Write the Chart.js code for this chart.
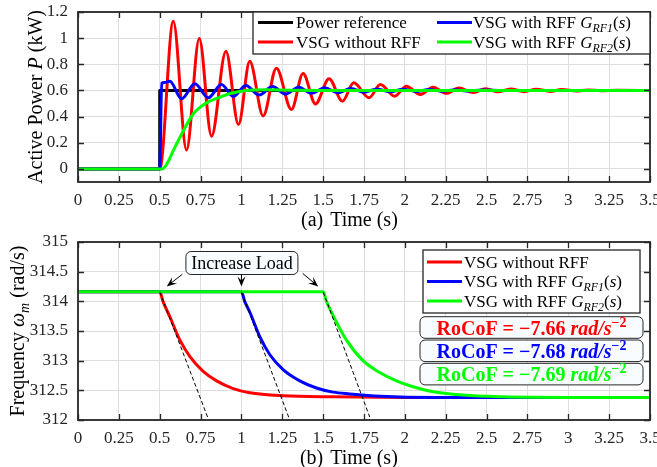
<!DOCTYPE html>
<html>
<head>
<meta charset="utf-8">
<script src="https://cdn.jsdelivr.net/npm/chart.js@4.4.1/dist/chart.umd.min.js"></script>
<style>
  html, body { margin: 0; padding: 0; background: #fff; }
  #wrap { position: relative; width: 657px; height: 467px; }
  canvas { position: absolute; left: 0; }
  #powerChart { top: 0; }
  #freqChart { top: 230px; }
</style>
</head>
<body>
<div id="wrap">
  <canvas id="powerChart" width="657" height="230"></canvas>
  <canvas id="freqChart" width="657" height="237"></canvas>
</div>
<script>
// ---- axes ----
const timeTicks = [0, 0.25, 0.5, 0.75, 1, 1.25, 1.5, 1.75, 2, 2.25, 2.5, 2.75, 3, 3.25, 3.5];
const timeTickLabels = ['0', '0.25', '0.5', '0.75', '1', '1.25', '1.5', '1.75', '2', '2.25', '2.5', '2.75', '3', '3.25', '3.5'];
const powerTicks = [0, 0.2, 0.4, 0.6, 0.8, 1, 1.2];
const powerTickLabels = ['0', '0.2', '0.4', '0.6', '0.8', '1', '1.2'];
const freqTicks = [312, 312.5, 313, 313.5, 314, 314.5, 315];
const freqTickLabels = ['312', '312.5', '313', '313.5', '314', '314.5', '315'];

// ---- (a) active power (kW) ----
const refTime  = [0, 0.5, 0.5, 3.5];
const refPower = [0, 0, 0.6, 0.6];

const noRffTime  = [0, 0.5, 0.583, 0.664, 0.742, 0.817, 0.905, 0.982, 1.051, 1.133, 1.214, 1.306, 1.377, 1.453,
  1.536, 1.618, 1.687, 1.781, 1.85, 1.938, 2.009, 2.095, 2.172, 2.254, 2.33, 2.42, 2.494, 2.57, 2.647, 2.73,
  2.804, 2.89, 2.96, 3.05, 3.12, 3.2, 3.3, 3.5];
const noRffPower = [0, 0, 1.13, 0.145, 0.998, 0.25, 0.9, 0.34, 0.823, 0.405, 0.77, 0.454, 0.73, 0.497,
  0.69, 0.518, 0.659, 0.544, 0.646, 0.556, 0.633, 0.569, 0.625, 0.578, 0.618, 0.585, 0.613, 0.59, 0.612, 0.591,
  0.61, 0.593, 0.607, 0.595, 0.604, 0.598, 0.601, 0.6];

const rf1Time  = [0, 0.5, 0.512, 0.53, 0.562, 0.634, 0.715, 0.797, 0.878, 0.95, 1.027, 1.108, 1.19, 1.27,
  1.35, 1.43, 1.51, 1.59, 1.67, 1.75, 1.83, 1.91, 1.99, 2.07, 2.15, 2.23, 2.31, 2.39, 2.47, 2.6, 3.5];
const rf1Power = [0, 0, 0.655, 0.66, 0.67, 0.536, 0.651, 0.544, 0.646, 0.554, 0.638, 0.565, 0.63, 0.572,
  0.625, 0.578, 0.62, 0.583, 0.615, 0.587, 0.612, 0.59, 0.609, 0.592, 0.607, 0.594, 0.605, 0.596, 0.603, 0.6, 0.6];

const rf2Time  = [0, 0.515, 0.545, 0.583, 0.644, 0.705, 0.75, 0.8, 0.869, 0.93, 1.03, 1.15, 1.3, 1.5, 3.5];
const rf2Power = [0, 0, 0.04, 0.14, 0.29, 0.42, 0.475, 0.515, 0.548, 0.577, 0.6, 0.605, 0.602, 0.6, 0.6];

// ---- (b) frequency (rad/s) ----
const noRffFreqTime = [0, 0.5, 0.52, 0.562, 0.623, 0.685, 0.766, 0.848, 0.95, 1.051, 1.255, 1.561, 2.0, 3.5];
const noRffFreq     = [314.16, 314.16, 314.0, 313.74, 313.35, 313.07, 312.82, 312.66, 312.53, 312.46, 312.41, 312.39, 312.38, 312.38];

const rf1FreqTime = [0, 1.0, 1.02, 1.051, 1.113, 1.174, 1.255, 1.357, 1.459, 1.561, 1.663, 1.85, 2.2, 3.5];
const rf1Freq     = [314.16, 314.16, 314.0, 313.82, 313.4, 313.1, 312.85, 312.66, 312.54, 312.47, 312.44, 312.4, 312.38, 312.38];

const rf2FreqTime = [0, 1.5, 1.52, 1.54, 1.642, 1.744, 1.846, 1.948, 2.05, 2.15, 2.355, 2.6, 3.0, 3.5];
const rf2Freq     = [314.16, 314.16, 314.0, 313.88, 313.35, 313.0, 312.8, 312.66, 312.56, 312.49, 312.42, 312.39, 312.38, 312.38];

// RoCoF tangent lines (start, end)
const tangentTime = [[0.5, 0.797], [1.0, 1.293], [1.5, 1.785]];
const tangentFreq = [[314.16, 312.02], [314.16, 312.02], [314.16, 312.05]];
const rocofValues = ['\u22127.66', '\u22127.68', '\u22127.69'];

const RED = '#ff0000', BLUE = '#0000ff', GREEN = '#00ff00', BLACK = '#000000';
const SERIF = '"Liberation Serif", "Times New Roman", serif';
const AXIS = '#262626';

const pts = (xs, ys) => xs.map((x, i) => ({ x, y: ys[i] }));

// rich text: parts = [text, style]; style flags: i italic, b bold, _ subscript, ^ superscript
function setFont(ctx, style, size) {
  const it = style.includes('i') ? 'italic ' : '';
  const bd = style.includes('b') ? 'bold ' : '';
  const small = style.includes('_') || style.includes('^');
  ctx.font = `${it}${bd}${small ? size * 0.7 : size}px ${SERIF}`;
  if (style.includes('_')) return size * 0.25;
  if (style.includes('^')) return -size * 0.4;
  return 0;
}
function richText(ctx, parts, x, y, size, draw = true) {
  let cx = x;
  ctx.textAlign = 'left';
  ctx.textBaseline = 'alphabetic';
  for (const [t, s] of parts) {
    const dy = setFont(ctx, s, size);
    if (draw) ctx.fillText(t, cx, y + dy);
    cx += ctx.measureText(t).width;
  }
  return cx - x;
}
function roundRect(ctx, x, y, w, h, r) {
  ctx.beginPath();
  ctx.moveTo(x + r, y);
  ctx.lineTo(x + w - r, y);
  ctx.arcTo(x + w, y, x + w, y + r, r);
  ctx.lineTo(x + w, y + h - r);
  ctx.arcTo(x + w, y + h, x + w - r, y + h, r);
  ctx.lineTo(x + r, y + h);
  ctx.arcTo(x, y + h, x, y + h - r, r);
  ctx.lineTo(x, y + r);
  ctx.arcTo(x, y, x + r, y, r);
  ctx.closePath();
}

const rf = n => [['VSG with RFF ', ''], ['G', 'i'], ['RF' + n, 'i_'], ['(', ''], ['s', 'i'], [')', '']];
const powerLegend = [
  { parts: [['Power reference', '']], color: BLACK },
  { parts: [['VSG without RFF', '']], color: RED },
  { parts: rf(1), color: BLUE },
  { parts: rf(2), color: GREEN }
];
const freqLegend = [
  { parts: [['VSG without RFF', '']], color: RED },
  { parts: rf(1), color: BLUE },
  { parts: rf(2), color: GREEN }
];

// frame with inward ticks + axis titles
function drawFrame(chart, yTitle, yTitleX, tag) {
  const { ctx, chartArea: a, scales: { x, y } } = chart;
  ctx.save();
  ctx.strokeStyle = AXIS;
  ctx.lineWidth = 1.3;
  ctx.beginPath();
  x.ticks.forEach(t => {
    const px = Math.round(x.getPixelForValue(t.value)) + 0.5;
    ctx.moveTo(px, a.bottom); ctx.lineTo(px, a.bottom - 6);
    ctx.moveTo(px, a.top); ctx.lineTo(px, a.top + 6);
  });
  y.ticks.forEach(t => {
    const py = Math.round(y.getPixelForValue(t.value)) + 0.5;
    ctx.moveTo(a.left, py); ctx.lineTo(a.left + 6, py);
    ctx.moveTo(a.right, py); ctx.lineTo(a.right - 6, py);
  });
  ctx.stroke();
  ctx.lineWidth = 1.8;
  ctx.strokeRect(a.left, a.top, a.right - a.left, a.bottom - a.top);

  // x title
  ctx.fillStyle = BLACK;
  const size = 20;
  const cx = (a.left + a.right) / 2;
  const by = a.bottom + 44;
  const tw = richText(ctx, [['Time (s)', '']], 0, 0, size, false);
  richText(ctx, [['Time (s)', '']], cx - tw / 2, by, size);
  const aw = richText(ctx, [[tag, '']], 0, 0, size, false);
  richText(ctx, [[tag, '']], cx - tw / 2 - 7 - aw, by, size);

  // y title
  const yw = richText(ctx, yTitle, 0, 0, size, false);
  ctx.translate(yTitleX, (a.top + a.bottom) / 2);
  ctx.rotate(-Math.PI / 2);
  richText(ctx, yTitle, -yw / 2, 0, size);
  ctx.restore();
}

function legendEntry(ctx, item, lx, cy, textX, size) {
  ctx.strokeStyle = item.color;
  ctx.lineWidth = 3;
  ctx.beginPath();
  ctx.moveTo(lx, cy); ctx.lineTo(lx + 35, cy);
  ctx.stroke();
  ctx.fillStyle = BLACK;
  richText(ctx, item.parts, textX, cy + size * 0.33, size);
}

function drawArrow(ctx, x0, y0, x1, y1) {
  const ang = Math.atan2(y1 - y0, x1 - x0);
  const L = 10, W = 4;
  ctx.beginPath();
  ctx.moveTo(x0, y0); ctx.lineTo(x1 - Math.cos(ang) * 5, y1 - Math.sin(ang) * 5);
  ctx.stroke();
  ctx.beginPath();
  ctx.moveTo(x1, y1);
  ctx.lineTo(x1 - L * Math.cos(ang) + W * Math.sin(ang), y1 - L * Math.sin(ang) - W * Math.cos(ang));
  ctx.lineTo(x1 - 0.6 * L * Math.cos(ang), y1 - 0.6 * L * Math.sin(ang));
  ctx.lineTo(x1 - L * Math.cos(ang) - W * Math.sin(ang), y1 - L * Math.sin(ang) + W * Math.cos(ang));
  ctx.closePath();
  ctx.fill();
}

const powerDecor = {
  id: 'powerDecor',
  afterDraw(chart) {
    const { ctx, chartArea: a } = chart;
    drawFrame(chart, [['Active Power ', ''], ['P', 'i'], [' (kW)', '']], 42, '(a)');
    ctx.save();
    const bx = a.right - 397, by = a.top, bw = 397, bh = 42;
    ctx.fillStyle = '#fff';
    ctx.fillRect(bx, by, bw, bh);
    ctx.strokeStyle = AXIS;
    ctx.lineWidth = 1.3;
    ctx.strokeRect(bx, by, bw, bh);
    const size = 17;
    legendEntry(ctx, powerLegend[0], bx + 5, by + 10.5, bx + 43, size);
    legendEntry(ctx, powerLegend[1], bx + 5, by + 30, bx + 43, size);
    legendEntry(ctx, powerLegend[2], bx + 184, by + 10.5, bx + 220, size);
    legendEntry(ctx, powerLegend[3], bx + 184, by + 30, bx + 220, size);
    ctx.restore();
  }
};

const freqDecor = {
  id: 'freqDecor',
  afterDraw(chart) {
    const { ctx, chartArea: a, scales: { x, y } } = chart;
    drawFrame(chart, [['Frequency ', ''], ['\u03c9', 'i'], ['m', 'i_'], [' (rad/s)', '']], 24, '(b)');
    ctx.save();

    // "Increase Load" callout
    const cx = x.getPixelForValue(1.003), cy = y.getPixelForValue(314.646);
    ctx.fillStyle = '#f8fcff';
    ctx.strokeStyle = AXIS;
    ctx.lineWidth = 1;
    roundRect(ctx, cx - 56, cy - 11.5, 112, 23, 5);
    ctx.fill(); ctx.stroke();
    ctx.fillStyle = BLACK;
    const lw = richText(ctx, [['Increase Load', '']], 0, 0, 18, false);
    richText(ctx, [['Increase Load', '']], cx - lw / 2, cy + 6, 18);
    const arrowFrom = [[0.638, 314.456], [1.0, 314.456], [1.375, 314.47]];
    const arrowTo = [[0.543, 314.25], [1.0, 314.25], [1.47, 314.25]];
    ctx.strokeStyle = BLACK;
    ctx.lineWidth = 1;
    arrowFrom.forEach((f, i) => {
      drawArrow(ctx, x.getPixelForValue(f[0]), y.getPixelForValue(f[1]),
        x.getPixelForValue(arrowTo[i][0]), y.getPixelForValue(arrowTo[i][1]));
    });

    // legend
    const bx = a.right - 227, by = a.top + 8, bw = 217, bh = 63;
    ctx.fillStyle = '#fff';
    ctx.fillRect(bx, by, bw, bh);
    ctx.strokeStyle = AXIS;
    ctx.lineWidth = 1.3;
    ctx.strokeRect(bx, by, bw, bh);
    freqLegend.forEach((item, i) => legendEntry(ctx, item, bx + 4, by + 12 + i * 19.5, bx + 41, 17));

    // RoCoF boxes
    const colors = [RED, BLUE, GREEN];
    rocofValues.forEach((v, i) => {
      const rx = a.right - 230, ry = a.top + 74.7 + i * 23.3, rw = 223, rh = 21.6;
      ctx.fillStyle = '#f8fcff';
      ctx.strokeStyle = AXIS;
      ctx.lineWidth = 1;
      roundRect(ctx, rx, ry, rw, rh, 5);
      ctx.fill(); ctx.stroke();
      const parts = [['RoCoF = ', 'b'], [v + ' ', 'b'], ['rad/s', 'bi'], ['\u22122', 'b^']];
      const w = richText(ctx, parts, 0, 0, 20, false);
      ctx.fillStyle = colors[i];
      richText(ctx, parts, rx + (rw - w) / 2, ry + rh / 2 + 7, 20);
    });
    ctx.restore();
  }
};

function axisOptions(ticks, labels, min, max, fitKey, fitSize, padding) {
  return {
    type: 'linear', min, max,
    afterBuildTicks: s => { s.ticks = ticks.map(v => ({ value: v })); },
    afterFit: s => {
      s[fitKey] = fitSize;
      s.paddingLeft = s.paddingRight = s.paddingTop = s.paddingBottom = 0;
    },
    grid: { color: '#dedede', lineWidth: 1, drawTicks: false },
    border: { display: false },
    ticks: {
      autoSkip: false, maxRotation: 0, padding, color: AXIS,
      font: { family: SERIF, size: 17 },
      callback: (v, i) => labels[i]
    }
  };
}

function chartOptions(yTicks, yLabels, yMin, yMax, xHeight) {
  return {
    responsive: false,
    animation: false,
    layout: { padding: { top: 12, right: 7, left: 0, bottom: 0 } },
    plugins: { legend: { display: false }, tooltip: { enabled: false } },
    elements: { point: { radius: 0 }, line: { borderWidth: 3, borderJoinStyle: 'round' } },
    scales: {
      x: axisOptions(timeTicks, timeTickLabels, 0, 3.5, 'height', xHeight, 8),
      y: axisOptions(yTicks, yLabels, yMin, yMax, 'width', 78, 10)
    }
  };
}

new Chart(document.getElementById('powerChart'), {
  type: 'line',
  data: {
    datasets: [
      { label: 'Power reference', data: pts(refTime, refPower), borderColor: BLACK, tension: 0, order: 4 },
      { label: 'VSG without RFF', data: pts(noRffTime, noRffPower), borderColor: RED, cubicInterpolationMode: 'monotone', order: 3 },
      { label: 'VSG with RFF GRF1(s)', data: pts(rf1Time, rf1Power), borderColor: BLUE, cubicInterpolationMode: 'monotone', order: 2 },
      { label: 'VSG with RFF GRF2(s)', data: pts(rf2Time, rf2Power), borderColor: GREEN, cubicInterpolationMode: 'monotone', order: 1 }
    ]
  },
  options: chartOptions(powerTicks, powerTickLabels, -0.1, 1.2, 48),
  plugins: [powerDecor]
});

const tangentSets = tangentTime.map((t, i) => ({
  label: 'tangent ' + (i + 1),
  data: pts(t, tangentFreq[i]),
  borderColor: BLACK, borderWidth: 1, borderDash: [4, 2.5], tension: 0, order: 0
}));

new Chart(document.getElementById('freqChart'), {
  type: 'line',
  data: {
    datasets: [
      { label: 'VSG without RFF', data: pts(noRffFreqTime, noRffFreq), borderColor: RED, cubicInterpolationMode: 'monotone', order: 3 },
      { label: 'VSG with RFF GRF1(s)', data: pts(rf1FreqTime, rf1Freq), borderColor: BLUE, cubicInterpolationMode: 'monotone', order: 2 },
      { label: 'VSG with RFF GRF2(s)', data: pts(rf2FreqTime, rf2Freq), borderColor: GREEN, cubicInterpolationMode: 'monotone', order: 1 },
      ...tangentSets
    ]
  },
  options: chartOptions(freqTicks, freqTickLabels, 312, 315, 47),
  plugins: [freqDecor]
});
</script>
</body>
</html>
